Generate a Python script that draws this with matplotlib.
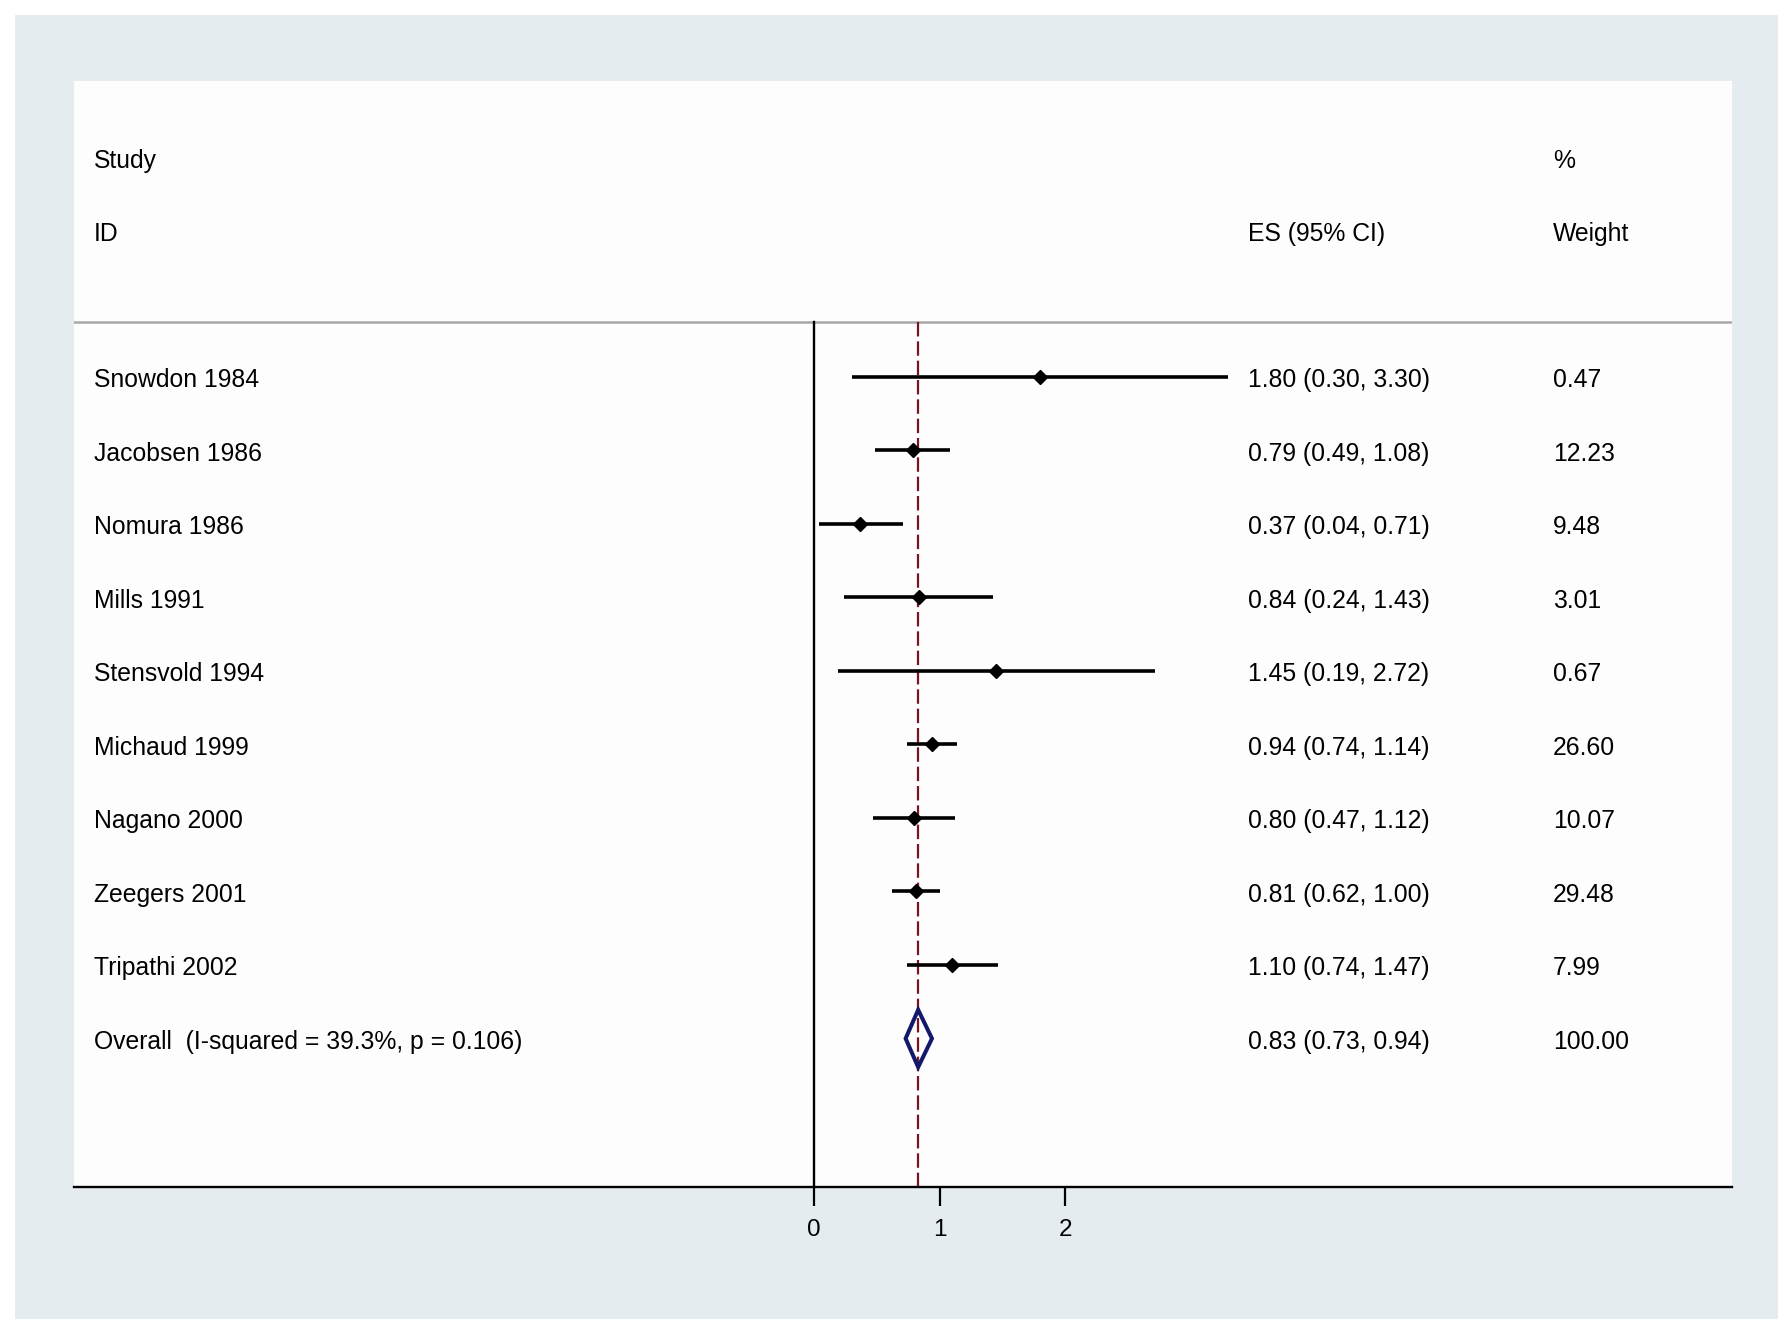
import matplotlib
matplotlib.use("Agg")
import matplotlib.pyplot as plt
from matplotlib.patches import Polygon
from matplotlib.transforms import blended_transform_factory

plt.rcParams['font.family'] = ['Liberation Sans', 'DejaVu Sans']

# data
studies = ["Snowdon 1984", "Jacobsen 1986", "Nomura 1986", "Mills 1991",
           "Stensvold 1994", "Michaud 1999", "Nagano 2000", "Zeegers 2001",
           "Tripathi 2002"]
es = [1.80, 0.79, 0.37, 0.84, 1.45, 0.94, 0.80, 0.81, 1.10]
lo = [0.30, 0.49, 0.04, 0.24, 0.19, 0.74, 0.47, 0.62, 0.74]
hi = [3.30, 1.08, 0.71, 1.43, 2.72, 1.14, 1.12, 1.00, 1.47]
weights = ["0.47", "12.23", "9.48", "3.01", "0.67", "26.60", "10.07", "29.48", "7.99"]
overall_label = "Overall  (I-squared = 39.3%, p = 0.106)"
overall = (0.83, 0.73, 0.94)
overall_weight = "100.00"
xticks = [0, 1, 2]

W, H = 1792, 1333
fig = plt.figure(figsize=(W / 100, H / 100), dpi=100, facecolor="white")

# outer light panel
bg = fig.add_axes([15 / W, 1 - 1319 / H, (1778 - 15) / W, (1319 - 15) / H], zorder=-1)
bg.set_facecolor("#e5ecef")
for s in bg.spines.values():
    s.set_visible(False)
bg.set_xticks([])
bg.set_yticks([])

left, right, top, bottom = 74, 1732, 81, 1187
ax = fig.add_axes([left / W, 1 - bottom / H, (right - left) / W, (bottom - top) / H], zorder=1)
ax.set_facecolor("#fdfdfd")

x0, unit = 814, 125.5
ax.set_xlim((left - x0) / unit, (right - x0) / unit)
row0, step = 377, 73.5
ax.set_ylim((bottom - row0) / step, (top - row0) / step)

for s in ["top", "left", "right"]:
    ax.spines[s].set_visible(False)
ax.spines["bottom"].set_linewidth(1.7)
ax.set_yticks([])
ax.set_xticks(xticks)
ax.tick_params(axis="x", length=14, width=1.6, pad=9, labelsize=17.5)

header_y = (322 - row0) / step
ybot = (bottom - row0) / step
ax.axhline(header_y, color="#a8a8a8", lw=1.8)
ax.plot([0, 0], [header_y, ybot], color="black", lw=1.7)
ax.plot([overall[0], overall[0]], [header_y, ybot], color="#7a1420", lw=1.6,
        dashes=(6.5, 2.2))

rows = list(range(len(studies)))
ax.hlines(rows, lo, hi, color="black", lw=2.6, zorder=3)
ax.plot(es, rows, linestyle="none", marker="D", markersize=7, color="black", zorder=4)

orow = len(studies)
h = 0.39
ax.add_patch(Polygon([(overall[1], orow), (overall[0], orow - h), (overall[2], orow),
                      (overall[0], orow + h)], closed=True, facecolor="none",
                     edgecolor="#14186a", lw=2.9, zorder=5))

tr = blended_transform_factory(ax.transAxes, ax.transData)
xs, xe, xw = (94 - left) / (right - left), (1248 - left) / (right - left), (1553 - left) / (right - left)
fs = 17.8
dy = 0.045
ax.text(xs, (158 - row0) / step + dy, "Study", transform=tr, va="center", fontsize=fs)
ax.text(xs, (231 - row0) / step + dy, "ID", transform=tr, va="center", fontsize=fs)
ax.text(xe, (231 - row0) / step + dy, "ES (95% CI)", transform=tr, va="center", fontsize=fs)
ax.text(xw, (158 - row0) / step + dy, "%", transform=tr, va="center", fontsize=fs)
ax.text(xw, (231 - row0) / step + dy, "Weight", transform=tr, va="center", fontsize=fs)

for i, name in enumerate(studies):
    ax.text(xs, i + dy, name, transform=tr, va="center", fontsize=fs)
    ax.text(xe, i + dy, f"{es[i]:.2f} ({lo[i]:.2f}, {hi[i]:.2f})", transform=tr,
            va="center", fontsize=fs)
    ax.text(xw, i + dy, weights[i], transform=tr, va="center", fontsize=fs)

ax.text(xs, orow + dy, overall_label, transform=tr, va="center", fontsize=fs)
ax.text(xe, orow + dy, f"{overall[0]:.2f} ({overall[1]:.2f}, {overall[2]:.2f})",
        transform=tr, va="center", fontsize=fs)
ax.text(xw, orow + dy, overall_weight, transform=tr, va="center", fontsize=fs)

fig.savefig("out.png", dpi=100, facecolor=fig.get_facecolor())
